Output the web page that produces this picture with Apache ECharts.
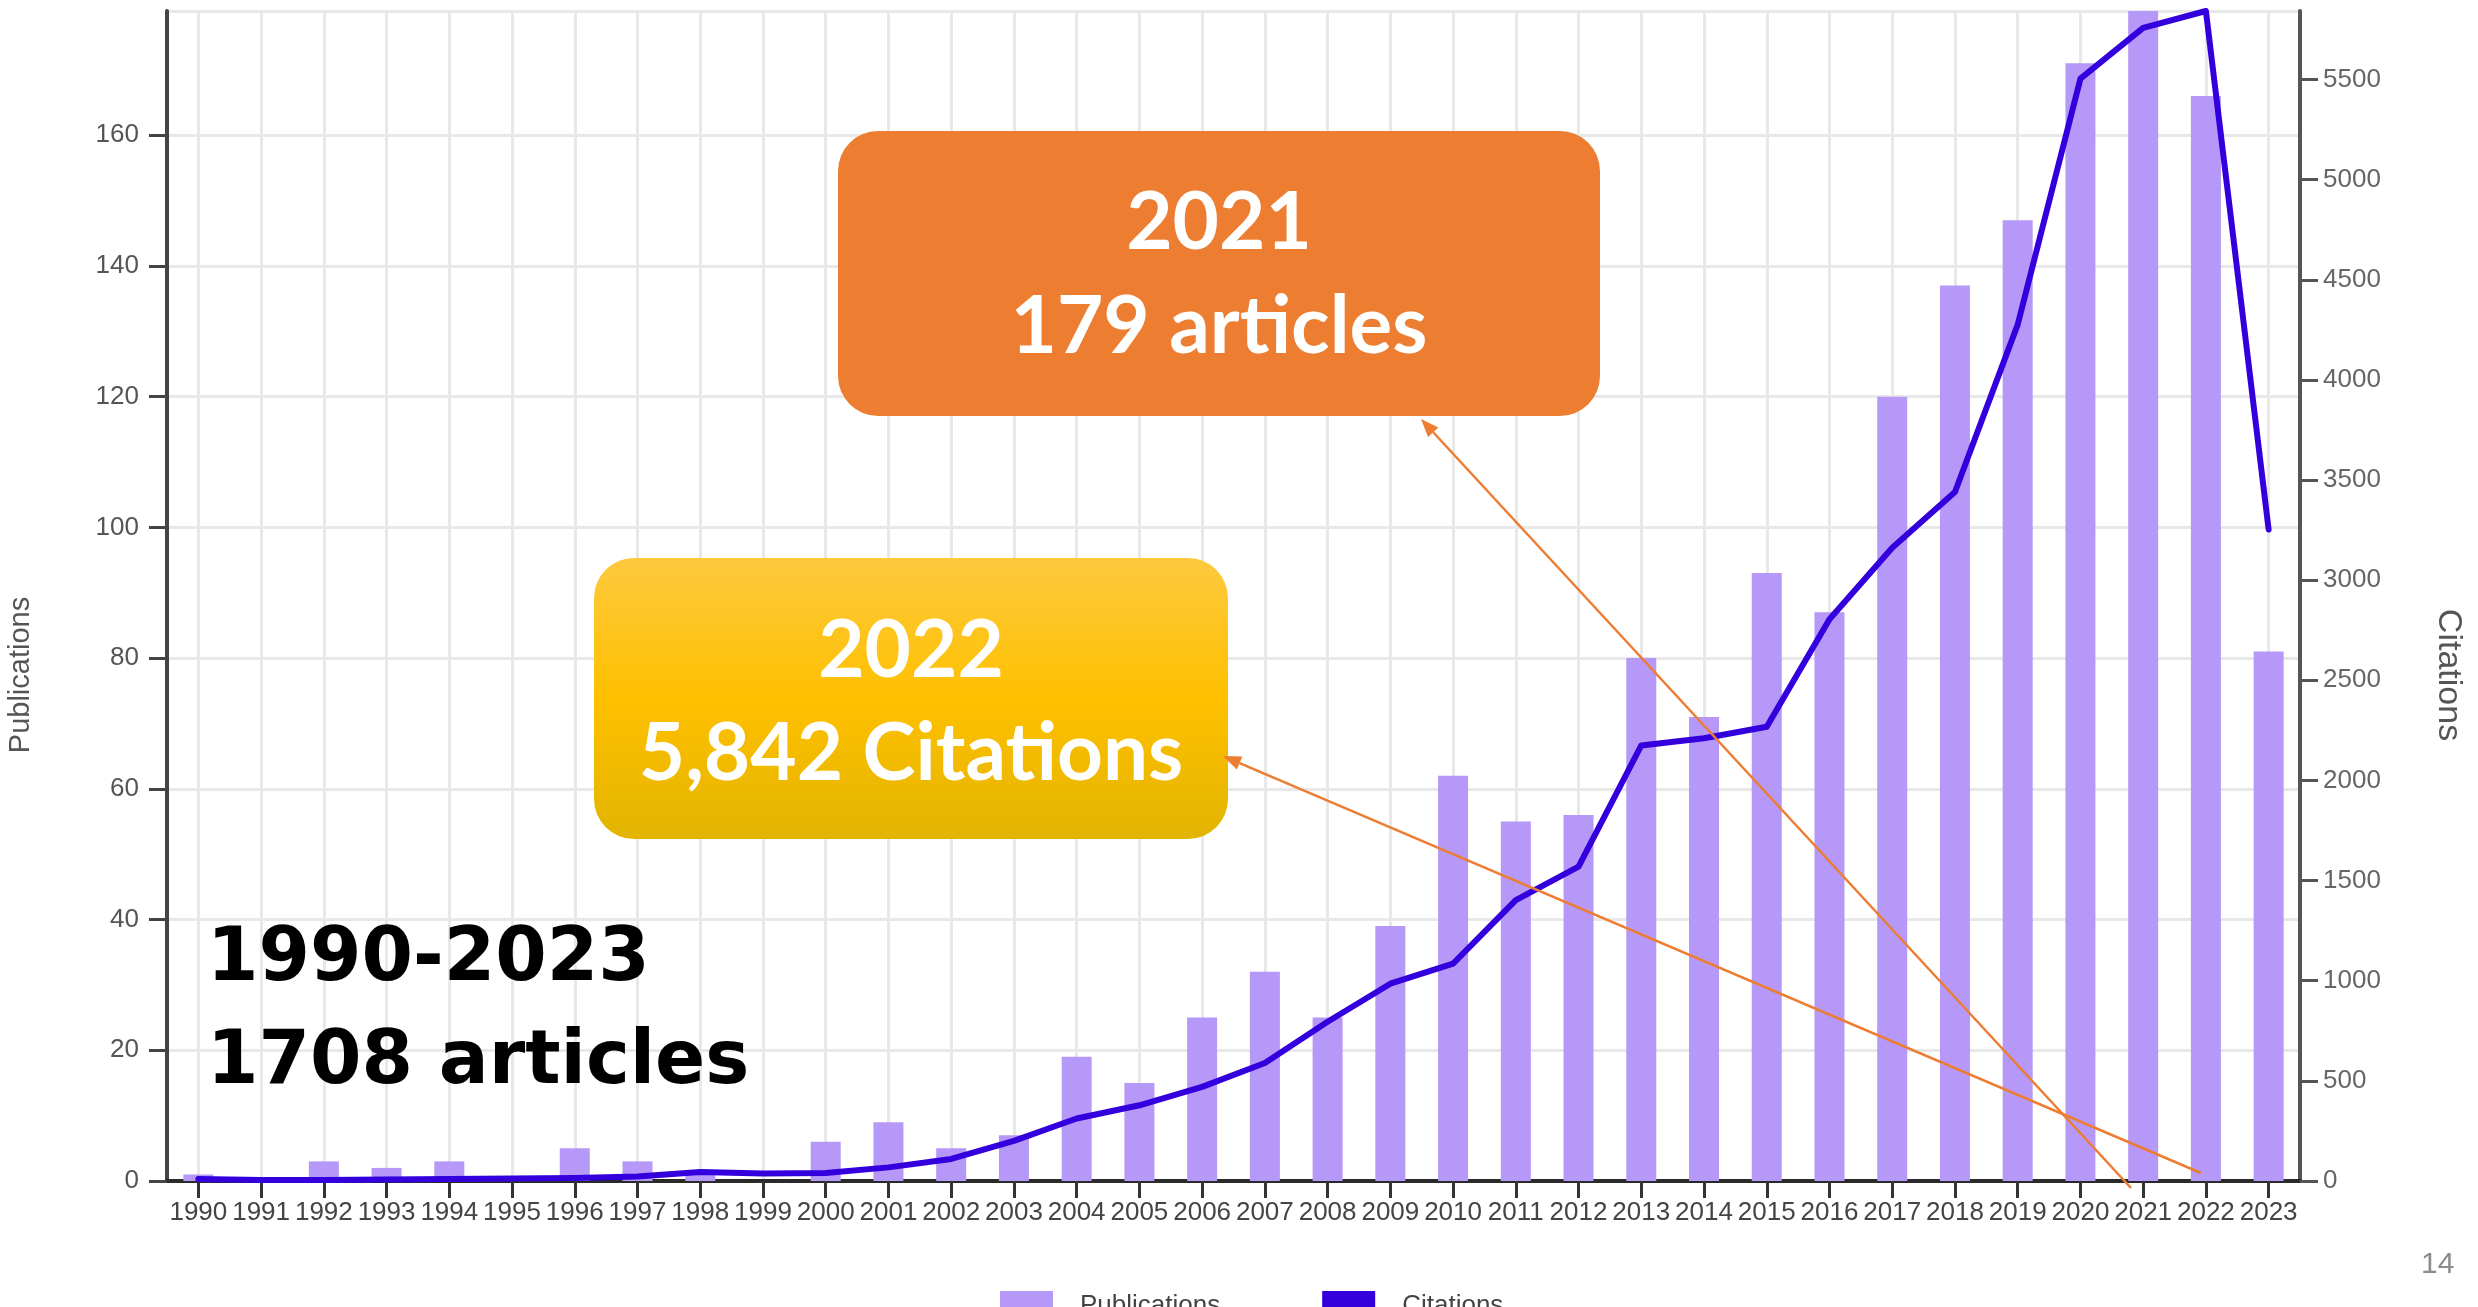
<!DOCTYPE html>
<html>
<head>
<meta charset="utf-8">
<script src="https://cdn.jsdelivr.net/npm/echarts@6/dist/echarts.min.js"></script>
<style>
html,body{margin:0;padding:0;background:#ffffff;}
#chart{width:2478px;height:1307px;}
</style>
</head>
<body>
<div id="chart"></div>
<script>
// ---- data ----
const years = ['1990','1991','1992','1993','1994','1995','1996','1997','1998','1999',
  '2000','2001','2002','2003','2004','2005','2006','2007','2008','2009',
  '2010','2011','2012','2013','2014','2015','2016','2017','2018','2019',
  '2020','2021','2022','2023'];
const publications = [1,0,3,2,3,0,5,3,1,0,
  6,9,5,7,19,15,25,32,25,39,
  62,55,56,80,71,93,87,120,137,147,
  171,179,166,81];
const citations = [10,5,5,8,10,12,15,23,45,38,
  40,68,110,200,312,378,470,589,795,985,
  1085,1402,1570,2175,2211,2268,2805,3162,3440,4276,
  5504,5758,5842,3253];
const seriesNames = ['Publications','Citations'];
const pubInterval = 20;
const citInterval = 500;
const boxTexts = {
  orange: ['2021','179 articles'],
  yellow: ['2022','5,842 Citations'],
  range: ['1990-2023','1708 articles']
};
const pageNumber = '14';

const pubMax = Math.max(...publications);
const citMax = Math.max(...citations);

function arrow(x1, y1, x2, y2, color) {
  const dx = x2 - x1, dy = y2 - y1;
  const len = Math.sqrt(dx*dx + dy*dy);
  const ux = dx/len, uy = dy/len;
  const L = 18, W = 7;
  const bx = x2 - ux*L, by = y2 - uy*L;
  return [
    {type:'line', z:100, shape:{x1:x1, y1:y1, x2:bx, y2:by}, style:{stroke:color, lineWidth:2.5}},
    {type:'polygon', z:100, shape:{points:[[x2,y2],[bx - uy*W, by + ux*W],[bx + uy*W, by - ux*W]]}, style:{fill:color}}
  ];
}

const labelFont = 'Liberation Sans, Arial, sans-serif';
const boxFont = 'Lato, "Open Sans", sans-serif';

const chart = echarts.init(document.getElementById('chart'), null, {renderer:'canvas'});
const option = {
  animation: false,
  backgroundColor: '#ffffff',
  grid: {left:167, right:178, top:11, bottom:126, containLabel:false, outerBoundsMode:'none'},
  legend: {
    data: seriesNames, left: 995, top: 1286, icon: 'rect',
    itemWidth: 53, itemHeight: 30, itemGap: 102,
    textStyle: {fontSize: 26, color: '#444', fontFamily: labelFont, padding: [0,0,0,22]}
  },
  xAxis: [{
    type: 'category', data: years, boundaryGap: true,
    axisLine: {show:true, lineStyle:{color:'#1a1a1a', width:4}},
    axisTick: {show:true, alignWithLabel:true, interval:0, length:17, lineStyle:{color:'#333', width:3}},
    axisLabel: {interval:0, margin:19, fontSize:26, color:'#444', fontFamily:labelFont},
    splitLine: {show:true, alignWithLabel:true, interval:0, lineStyle:{color:'#e8e8e8', width:3}}
  }, {
    type: 'category', data: years, position: 'top',
    axisLine: {show:true, lineStyle:{color:'#2a2a2a', width:4}},
    axisTick: {show:false}, axisLabel: {show:false}, splitLine: {show:false}
  }],
  yAxis: [{
    type: 'value', position: 'left', min: 0, max: pubMax, interval: pubInterval,
    axisLine: {show:true, lineStyle:{color:'#444', width:4}},
    axisTick: {show:true, length:18, lineStyle:{color:'#444', width:3}},
    axisLabel: {margin:28, fontSize:26, color:'#555', fontFamily:labelFont, showMaxLabel:false,
      formatter: function (v) { return String(v); }},
    splitLine: {show:true, lineStyle:{color:'#e8e8e8', width:3}},
    name: seriesNames[0], nameLocation: 'middle', nameRotate: 90, nameGap: 132,
    nameTextStyle: {fontSize:29, color:'#555', fontFamily:labelFont, padding:[0,158,0,0]}
  }, {
    type: 'value', position: 'right', min: 0, max: citMax, interval: citInterval,
    axisLine: {show:true, lineStyle:{color:'#555', width:4}},
    axisTick: {show:true, length:18, lineStyle:{color:'#555', width:3}},
    axisLabel: {margin:23, fontSize:26, color:'#666', fontFamily:labelFont, showMaxLabel:false,
      formatter: function (v) { return String(v); }},
    splitLine: {show:false},
    name: seriesNames[1], nameLocation: 'middle', nameRotate: -90, nameGap: 131,
    nameTextStyle: {fontSize:34, color:'#555', fontFamily:labelFont, padding:[0,0,0,158]}
  }],
  series: [{
    name: seriesNames[0], type: 'bar', xAxisIndex: 0, yAxisIndex: 0,
    data: publications, barWidth: 30,
    itemStyle: {color: '#b598f7'}
  }, {
    name: seriesNames[1], type: 'line', xAxisIndex: 0, yAxisIndex: 1,
    data: citations, showSymbol: false, symbol: 'none', clip: false, z: 3,
    lineStyle: {width: 6, color: '#3300dd', join: 'round', cap: 'round'},
    itemStyle: {color: '#3300dd'}
  }],
  graphic: [
    {type:'rect', z:90, shape:{x:838, y:131, width:762, height:285, r:40}, style:{fill:'#ed7d31'}},
    {type:'text', z:91, x:1219, y:223, style:{text:boxTexts.orange[0], fill:'#ffffff', fontSize:80, fontWeight:'bold', fontFamily:boxFont, align:'center', verticalAlign:'middle'}},
    {type:'text', z:91, x:1219, y:327, style:{text:boxTexts.orange[1], fill:'#ffffff', fontSize:80, fontWeight:'bold', fontFamily:boxFont, align:'center', verticalAlign:'middle'}},
    {type:'rect', z:90, shape:{x:594, y:558, width:634, height:281, r:40},
      style:{fill:new echarts.graphic.LinearGradient(0,0,0,1,[{offset:0,color:'#fdc93e'},{offset:0.5,color:'#ffc000'},{offset:1,color:'#e2b400'}])}},
    {type:'text', z:91, x:911, y:651, style:{text:boxTexts.yellow[0], fill:'#ffffff', fontSize:80, fontWeight:'bold', fontFamily:boxFont, align:'center', verticalAlign:'middle'}},
    {type:'text', z:91, x:911, y:754, style:{text:boxTexts.yellow[1], fill:'#ffffff', fontSize:80, fontWeight:'bold', fontFamily:boxFont, align:'center', verticalAlign:'middle'}},
    {type:'text', z:91, x:207, y:961, style:{text:boxTexts.range[0], fill:'#000000', fontSize:74, fontWeight:'bold', fontFamily:'DejaVu Sans', align:'left', verticalAlign:'middle'}},
    {type:'text', z:91, x:207, y:1064, style:{text:boxTexts.range[1], fill:'#000000', fontSize:74, fontWeight:'bold', fontFamily:'DejaVu Sans', align:'left', verticalAlign:'middle'}},
    {type:'text', z:91, x:2421, y:1265, style:{text:pageNumber, fill:'#8c8c8c', fontSize:30, fontFamily:'Liberation Sans', align:'left', verticalAlign:'middle'}},
    ...arrow(2131, 1188, 1421, 419, '#ed7d31'),
    ...arrow(2201, 1173, 1223, 756, '#ed7d31')
  ]
};
chart.setOption(option);
</script>
</body>
</html>
